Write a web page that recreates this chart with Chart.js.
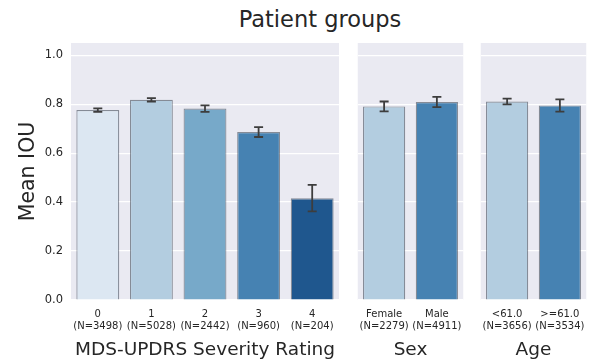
<!DOCTYPE html>
<html>
<head>
<meta charset="utf-8">
<script src="https://cdn.jsdelivr.net/npm/chart.js@4"></script>
<style>
  html, body { margin: 0; padding: 0; background: #fff; }
  #fig { position: relative; width: 594px; height: 362px; overflow: hidden; font-family: "DejaVu Sans", sans-serif; }
  #fig canvas { position: absolute; top: 0; }
  #title { position: absolute; left: 0; top: 6px; width: 640px; text-align: center; font-size: 22.5px; line-height: 27px; color: #262626; white-space: nowrap; }
</style>
</head>
<body>
<div id="fig">
  <div id="title">Patient groups</div>
  <canvas id="severity" width="345" height="362" style="left:0px"></canvas>
  <canvas id="sex" width="121" height="362" style="left:350px"></canvas>
  <canvas id="age" width="121" height="362" style="left:473px"></canvas>
</div>
<script>
const severityLabels = ['0', '1', '2', '3', '4']
const severityN = [3498, 5028, 2442, 960, 204]
const severityIou = [0.776, 0.818, 0.782, 0.686, 0.416]
const severityErr = [0.007, 0.007, 0.013, 0.02, 0.054]

const sexLabels = ['Female', 'Male']
const sexN = [2279, 4911]
const sexIou = [0.791, 0.809]
const sexErr = [0.02, 0.021]

const ageLabels = ['<61.0', '>=61.0']
const ageN = [3656, 3534]
const ageIou = [0.811, 0.795]
const ageErr = [0.012, 0.025]

const yTicks = [0, 0.2, 0.4, 0.6, 0.8, 1.0]

const blues = ['#dce7f2', '#b3cde0', '#77a9c9', '#4682b2', '#1f578e']
const textColor = '#262626'
const font = 'DejaVu Sans'

// grey panel behind the plot area
const panelBg = {
    id: 'panelBg',
    beforeDraw(chart) {
        const a = chart.chartArea
        const c = chart.ctx
        c.save()
        c.fillStyle = '#eaeaf2'
        c.fillRect(a.left, a.top, a.right - a.left, a.bottom - a.top)
        c.restore()
    }
}

// confidence interval whiskers on each bar
const errorBars = {
    id: 'errorBars',
    afterDatasetsDraw(chart) {
        const errs = chart.options.plugins.errorBars.errors
        const vals = chart.data.datasets[0].data
        const y = chart.scales.y
        const c = chart.ctx
        c.save()
        c.strokeStyle = '#3d3d3d'
        c.lineWidth = 1.8
        chart.getDatasetMeta(0).data.forEach((bar, i) => {
            const top = y.getPixelForValue(vals[i] + errs[i])
            const bot = y.getPixelForValue(vals[i] - errs[i])
            c.beginPath()
            c.moveTo(bar.x, top); c.lineTo(bar.x, bot)
            c.moveTo(bar.x - 4.5, top); c.lineTo(bar.x + 4.5, top)
            c.moveTo(bar.x - 4.5, bot); c.lineTo(bar.x + 4.5, bot)
            c.stroke()
        })
        c.restore()
    }
}

function makePanel(id, labels, counts, values, errors, colors, title, opts) {
    const tickLabels = labels.map((l, i) => [l, '(N=' + counts[i] + ')'])
    return new Chart(document.getElementById(id), {
        type: 'bar',
        data: {
            labels: tickLabels,
            datasets: [{
                data: values,
                backgroundColor: colors,
                borderColor: 'rgba(50,60,75,0.55)',
                borderWidth: 1.2,
                barPercentage: 0.8,
                categoryPercentage: 1.0
            }]
        },
        options: {
            responsive: false,
            animation: false,
            devicePixelRatio: 1,
            layout: { padding: opts.padding },
            plugins: {
                legend: { display: false },
                tooltip: { enabled: false },
                errorBars: { errors: errors }
            },
            scales: {
                x: {
                    grid: { display: false, drawTicks: false },
                    border: { display: false },
                    ticks: {
                        autoSkip: false, maxRotation: 0, padding: 8,
                        color: textColor, font: { family: font, size: 10 }
                    },
                    title: {
                        display: true, text: title, color: textColor,
                        font: { family: font, size: 18.5 }, padding: { top: 0, bottom: 1 }
                    },
                    afterFit: s => { s.height = 62 }
                },
                y: {
                    min: 0, max: 1.05,
                    afterBuildTicks: s => { s.ticks = yTicks.map(v => ({ value: v })) },
                    grid: { color: '#ffffff', lineWidth: 1.2, drawTicks: false },
                    border: { display: false },
                    ticks: {
                        display: opts.yAxis, padding: 8, color: textColor,
                        font: { family: font, size: 11.5 },
                        callback: v => v.toFixed(1)
                    },
                    title: {
                        display: opts.yAxis, text: 'Mean IOU', color: textColor,
                        font: { family: font, size: 20.5 }, padding: { top: 16 }
                    },
                    afterFit: s => { s.width = opts.yWidth }
                }
            }
        },
        plugins: [panelBg, errorBars]
    })
}

makePanel('severity', severityLabels, severityN, severityIou, severityErr, blues,
    'MDS-UPDRS Severity Rating', { padding: { left: 0, right: 6, top: 43, bottom: 0 }, yAxis: true, yWidth: 71 })
makePanel('sex', sexLabels, sexN, sexIou, sexErr, [blues[1], blues[3]],
    'Sex', { padding: { left: 7, right: 7, top: 43, bottom: 0 }, yAxis: false, yWidth: 0 })
makePanel('age', ageLabels, ageN, ageIou, ageErr, [blues[1], blues[3]],
    'Age', { padding: { left: 7, right: 7, top: 43, bottom: 0 }, yAxis: false, yWidth: 0 })
</script>
</body>
</html>
